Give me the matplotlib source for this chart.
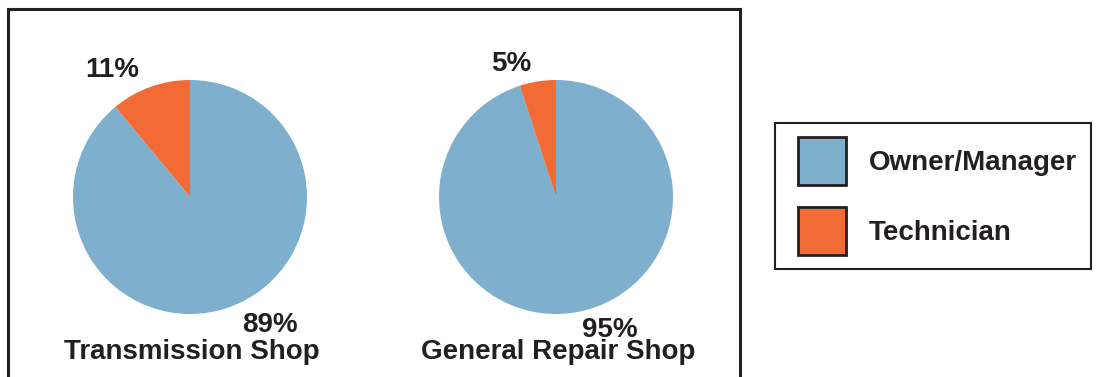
import matplotlib.pyplot as plt
from matplotlib.patches import Patch, Rectangle
from matplotlib.legend_handler import HandlerPatch

plt.rcParams['font.family'] = ['Liberation Sans', 'DejaVu Sans']
plt.rcParams['font.weight'] = 'bold'

# Share of who does the work, by shop type
shops = ['Transmission Shop', 'General Repair Shop']
roles = ['Owner/Manager', 'Technician']
owner_pct = [89, 95]
tech_pct = [11, 5]

blue = '#7EAFCD'
orange = '#F26B35'
ink = '#231F20'

W, H = 1104, 377
fig = plt.figure(figsize=(W / 100, H / 100), dpi=100)

# outer frame (bottom edge runs off the page)
frame = fig.add_axes([8 / W, -0.2, 732 / W, 1.2 - 9 / H])
frame.set_xticks([])
frame.set_yticks([])
for s in frame.spines.values():
    s.set_linewidth(2.2)
    s.set_color(ink)

centers = [190, 556]
r = 117
# label offsets in pie-radius units: (small slice label, large slice label)
small_pos = [(-0.667, 1.085), (-0.385, 1.14)]
big_pos = [(0.684, -1.094), (0.462, -1.137)]

for i, shop in enumerate(shops):
    cx = centers[i]
    ax = fig.add_axes([(cx - r) / W, (H - 197 - r) / H, 2 * r / W, 2 * r / H])
    ax.pie([owner_pct[i], tech_pct[i]], colors=[blue, orange],
           startangle=90, counterclock=False, radius=1,
           wedgeprops=dict(linewidth=0))
    ax.set_xlim(-1, 1)
    ax.set_ylim(-1, 1)
    ax.set_aspect('equal')
    ax.axis('off')
    ax.text(*small_pos[i], f'{tech_pct[i]}%', ha='center', va='center',
            fontsize=20, color=ink, clip_on=False)
    ax.text(*big_pos[i], f'{owner_pct[i]}%', ha='center', va='center',
            fontsize=20, color=ink, clip_on=False)
    ax.text(0.015, -1.325, shop, ha='center', va='center',
            fontsize=20, color=ink, clip_on=False)


# square swatch pushed to the right side of the handle box
def swatch(legend, orig_handle, xdescent, ydescent, width, height, fontsize):
    side = 34.6
    return Rectangle((-xdescent + width - side, -ydescent + (height - side) / 2),
                     side, side)


handles = [Patch(facecolor=blue, edgecolor=ink, linewidth=2),
           Patch(facecolor=orange, edgecolor=ink, linewidth=2)]
leg = fig.legend(handles, roles, loc='upper left',
                 bbox_to_anchor=(775 / W, 1 - 123 / H), borderaxespad=0,
                 fontsize=20, handlelength=2.05, handleheight=2.285,
                 handletextpad=0.83, labelspacing=0.79, borderpad=0.5,
                 fancybox=False, framealpha=1, edgecolor=ink,
                 handler_map={Patch: HandlerPatch(patch_func=swatch)})
leg.get_frame().set_linewidth(1.5)
for t in leg.get_texts():
    t.set_color(ink)

fig.savefig('out.png', dpi=100)
